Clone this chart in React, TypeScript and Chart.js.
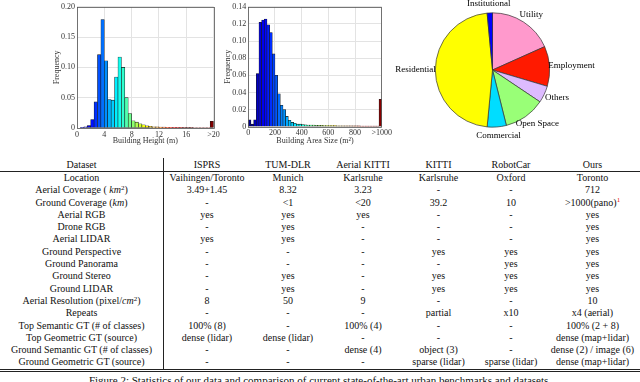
import React, { useEffect, useRef } from "react";
import { Chart, registerables } from "chart.js";
Chart.register(...registerables);

// ---------- DATA ----------
// Building height histogram (bin width 0.5 m, last bin = ">20")
const HEIGHT_BIN_WIDTH = 0.5;
const heightFreq = [
  0, 0.001, 0.002, 0.004, 0.014, 0.043, 0.121, 0.179, 0.111, 0.047,
  0.046, 0.084, 0.117, 0.1, 0.05, 0.024, 0.012, 0.0096, 0.007, 0.0053,
  0.0037, 0.0027, 0.002, 0.0018, 0.0015, 0.0014, 0.0012, 0.0011, 0.001, 0.001,
  0.001, 0.0009, 0.0009, 0.0009, 0.0008, 0.0008, 0.0008, 0.0008, 0.0008, 0.011,
];
const heightTicks = [0, 4, 8, 12, 16, 20];
const heightLastLabel = ">20";

// Building area histogram (bin width 20 m^2, last bin = ">1000")
const AREA_BIN_WIDTH = 20;
const areaFreq = [
  0.008, 0.003, 0.008, 0.062, 0.122, 0.1245, 0.1257, 0.119, 0.11, 0.085,
  0.06, 0.0385, 0.025, 0.02, 0.012, 0.0075, 0.005, 0.004, 0.003, 0.003,
  0.0025, 0.0022, 0.002, 0.002, 0.0018, 0.0017, 0.0016, 0.0015, 0.0014, 0.0013,
  0.0013, 0.0012, 0.0012, 0.0011, 0.0011, 0.001, 0.001, 0.001, 0.001, 0.0009,
  0.0009, 0.0009, 0.0008, 0.0008, 0.0008, 0.0008, 0.0007, 0.0007, 0.0007, 0.032,
];
const areaLastLabel = ">1000";

// Land use pie
const landUseLabels = ["Utility", "Employment", "Others", "Open Space", "Commercial", "Residential", "Institutional"];
const landUseShare = [18.3, 11.3, 4.8, 11.7, 5.4, 47.0, 1.5];
const landUseColors = ["#ff99cc", "#ff1a00", "#ddbbff", "#99ff77", "#00ddff", "#ffff00", "#0000ff"];

// Table
const datasetNames = ["ISPRS", "TUM-DLR", "Aerial KITTI", "KITTI", "RobotCar", "Ours"];
const rowLocation = ["Vaihingen/Toronto", "Munich", "Karlsruhe", "Karlsruhe", "Oxford", "Toronto"];
const rowAerialCoverage = ["3.49+1.45", "8.32", "3.23", "-", "-", "712"];
const rowGroundCoverage = ["-", "<1", "<20", "39.2", "10", ">1000(pano)"];
const rowAerialRGB = ["yes", "yes", "yes", "-", "-", "yes"];
const rowDroneRGB = ["-", "yes", "-", "-", "-", "yes"];
const rowAerialLidar = ["yes", "yes", "-", "-", "-", "yes"];
const rowGroundPerspective = ["-", "-", "-", "yes", "yes", "yes"];
const rowGroundPanorama = ["-", "-", "-", "-", "yes", "yes"];
const rowGroundStereo = ["-", "yes", "-", "yes", "yes", "yes"];
const rowGroundLidar = ["-", "yes", "-", "yes", "yes", "yes"];
const rowAerialRes = ["8", "50", "9", "-", "-", "10"];
const rowRepeats = ["-", "-", "-", "partial", "x10", "x4 (aerial)"];
const rowTopSem = ["100% (8)", "-", "100% (4)", "-", "-", "100% (2 + 8)"];
const rowTopGeo = ["dense (lidar)", "dense (lidar)", "-", "-", "-", "dense (map+lidar)"];
const rowGroundSem = ["-", "-", "dense (4)", "object (3)", "-", "dense (2) / image (6)"];
const rowGroundGeo = ["-", "-", "-", "sparse (lidar)", "sparse (lidar)", "dense (map+lidar)"];

const caption =
  "Figure 2: Statistics of our data and comparison of current state-of-the-art urban benchmarks and datasets.";

// ---------- STYLE HELPERS ----------
const SERIF = "'Liberation Serif', 'Times New Roman', serif";

function clamp(v: number, a: number, b: number) {
  return Math.max(a, Math.min(b, v));
}
function jet(t: number) {
  t = clamp(t, 0, 1);
  const r = clamp(1.5 - Math.abs(4 * t - 3), 0, 1);
  const g = clamp(1.5 - Math.abs(4 * t - 2), 0, 1);
  const b = clamp(1.5 - Math.abs(4 * t - 1), 0, 1);
  return `rgb(${Math.round(r * 255)},${Math.round(g * 255)},${Math.round(b * 255)})`;
}

const boxPlugin = {
  id: "box",
  afterDatasetsDraw(chart: any) {
    const { ctx, chartArea } = chart;
    ctx.save();
    ctx.strokeStyle = "#555";
    ctx.lineWidth = 0.8;
    ctx.strokeRect(
      Math.round(chartArea.left) + 0.5,
      Math.round(chartArea.top) + 0.5,
      Math.round(chartArea.right - chartArea.left),
      Math.round(chartArea.bottom - chartArea.top)
    );
    ctx.restore();
  },
};

const pieLabelPlugin = {
  id: "pieLabels",
  afterDraw(chart: any) {
    const meta = chart.getDatasetMeta(0);
    const ctx = chart.ctx;
    ctx.save();
    ctx.font = `9px ${SERIF}`;
    ctx.fillStyle = "#000";
    ctx.textAlign = "center";
    ctx.textBaseline = "middle";
    meta.data.forEach((arc: any, i: number) => {
      const p = arc.getProps(["x", "y", "startAngle", "endAngle", "outerRadius"], true);
      const mid = (p.startAngle + p.endAngle) / 2;
      const dx = Math.cos(mid);
      const dy = Math.sin(mid);
      const label = chart.data.labels[i];
      const w = ctx.measureText(label).width;
      const ax = p.x + dx * p.outerRadius * 1.1;
      const ay = p.y + dy * p.outerRadius * 1.1;
      ctx.fillText(label, ax + dx * w * 0.35, ay + dy * 9 * 0.35);
    });
    ctx.restore();
  },
};

function histOptions(cfg: {
  xMax: number;
  xStep: number;
  lastLabel: string;
  yMax: number;
  yStep: number;
  yAxisWidth: number;
  xAxisHeight: number;
  padTop: number;
  padRight: number;
  yTitlePad: number;
  xTitlePad: number;
  xTickPad: number;
  xTitle: string;
}) {
  const tickFont = { family: SERIF, size: 8 };
  return {
    animation: false,
    responsive: false,
    events: [],
    layout: { padding: { left: 0, top: cfg.padTop, right: cfg.padRight, bottom: 0 } },
    plugins: { legend: { display: false }, tooltip: { enabled: false } },
    scales: {
      x: {
        type: "linear",
        min: 0,
        max: cfg.xMax,
        offset: false,
        grid: { color: "#e3e3e3", drawTicks: false, offset: false },
        border: { display: false },
        ticks: {
          stepSize: cfg.xStep,
          font: tickFont,
          color: "#333",
          padding: cfg.xTickPad,
          maxRotation: 0,
          callback: (v: number) => (v === cfg.xMax ? cfg.lastLabel : String(v)),
        },
        title: {
          display: true,
          text: cfg.xTitle,
          font: tickFont,
          color: "#333",
          padding: { top: 0, bottom: cfg.xTitlePad },
        },
        afterFit: (s: any) => {
          s.height = cfg.xAxisHeight;
        },
      },
      y: {
        min: 0,
        max: cfg.yMax,
        grid: { color: "#e3e3e3", drawTicks: false },
        border: { display: false },
        ticks: { stepSize: cfg.yStep, font: tickFont, color: "#333", padding: 2 },
        title: {
          display: true,
          text: "Frequency",
          font: tickFont,
          color: "#333",
          padding: { top: cfg.yTitlePad, bottom: 0 },
        },
        afterFit: (s: any) => {
          s.width = cfg.yAxisWidth;
        },
      },
    },
  };
}

function rowCells(vals: string[]) {
  return vals;
}

export default function App() {
  const h1 = useRef<HTMLCanvasElement>(null);
  const h2 = useRef<HTMLCanvasElement>(null);
  const pie = useRef<HTMLCanvasElement>(null);

  useEffect(() => {
    document.body.style.margin = "0";
    const charts: Chart[] = [];

    const hData = heightFreq.map((y, i) => ({ x: (i + 0.5) * HEIGHT_BIN_WIDTH, y }));
    charts.push(
      new Chart(h1.current!, {
        type: "bar",
        data: {
          datasets: [
            {
              data: hData as any,
              backgroundColor: hData.map((d) => jet(d.x / 16)),
              borderColor: "#1a1a1a",
              borderWidth: 0.6,
              borderSkipped: false,
              barPercentage: 1,
              categoryPercentage: 1,
            },
          ],
        },
        options: histOptions({
          xMax: heightTicks[heightTicks.length - 1],
          xStep: heightTicks[1] - heightTicks[0],
          lastLabel: heightLastLabel,
          yMax: 0.2,
          yStep: 0.05,
          yAxisWidth: 37,
          xAxisHeight: 22,
          padTop: 3,
          padRight: 11.4,
          yTitlePad: 11.7,
          xTitlePad: 4.2,
          xTickPad: 2,
          xTitle: "Building Height (m)",
        }) as any,
        plugins: [boxPlugin],
      })
    );

    const aData = areaFreq.map((y, i) => ({ x: (i + 0.5) * AREA_BIN_WIDTH, y }));
    charts.push(
      new Chart(h2.current!, {
        type: "bar",
        data: {
          datasets: [
            {
              data: aData as any,
              backgroundColor: aData.map((d) => jet(d.x / 1000)),
              borderColor: "#1a1a1a",
              borderWidth: 0.6,
              borderSkipped: false,
              barPercentage: 1,
              categoryPercentage: 1,
            },
          ],
        },
        options: histOptions({
          xMax: areaFreq.length * AREA_BIN_WIDTH,
          xStep: 200,
          lastLabel: areaLastLabel,
          yMax: 0.14,
          yStep: 0.02,
          yAxisWidth: 33.3,
          xAxisHeight: 23.3,
          padTop: 1.7,
          padRight: 13.3,
          yTitlePad: 8.5,
          xTitlePad: 4.2,
          xTickPad: 1,
          xTitle: "Building Area Size (m²)",
        }) as any,
        plugins: [boxPlugin],
      })
    );

    charts.push(
      new Chart(pie.current!, {
        type: "pie",
        data: {
          labels: landUseLabels,
          datasets: [
            {
              data: landUseShare,
              backgroundColor: landUseColors,
              borderColor: "#333",
              borderWidth: 0.7,
            },
          ],
        },
        options: {
          animation: false,
          responsive: false,
          events: [],
          layout: { padding: { left: 55, right: 90, top: 12.5, bottom: 17.5 } },
          plugins: { legend: { display: false }, tooltip: { enabled: false } },
        } as any,
        plugins: [pieLabelPlugin],
      })
    );

    return () => charts.forEach((c) => c.destroy());
  }, []);

  const colWidths = [164, 86, 76, 74, 77, 68, 95];
  const rowH = 12.3;

  const sup2 = <sup style={{ fontSize: 7, lineHeight: 0, verticalAlign: "3px" }}>2</sup>;
  const rows: { label: React.ReactNode; vals: string[] }[] = [
    { label: "Location", vals: rowLocation },
    { label: <>Aerial Coverage ( <i>km</i>{sup2})</>, vals: rowAerialCoverage },
    { label: <>Ground Coverage (<i>km</i>)</>, vals: rowGroundCoverage },
    { label: "Aerial RGB", vals: rowAerialRGB },
    { label: "Drone RGB", vals: rowDroneRGB },
    { label: "Aerial LIDAR", vals: rowAerialLidar },
    { label: "Ground Perspective", vals: rowGroundPerspective },
    { label: "Ground Panorama", vals: rowGroundPanorama },
    { label: "Ground Stereo", vals: rowGroundStereo },
    { label: "Ground LIDAR", vals: rowGroundLidar },
    { label: <>Aerial Resolution (pixel/<i>cm</i>{sup2})</>, vals: rowAerialRes },
    { label: "Repeats", vals: rowRepeats },
    { label: "Top Semantic GT (# of classes)", vals: rowTopSem },
    { label: "Top Geometric GT (source)", vals: rowTopGeo },
    { label: "Ground Semantic GT (# of classes)", vals: rowGroundSem },
    { label: "Ground Geometric GT (source)", vals: rowGroundGeo },
  ];

  const cellStyle = (ci: number, h: number): React.CSSProperties => ({
    width: colWidths[ci],
    height: h,
    lineHeight: `${h}px`,
    textAlign: "center",
    whiteSpace: "nowrap",
    boxSizing: "border-box",
    borderRight: ci === 0 ? "1px solid #222" : undefined,
    flex: "none",
  });

  const renderVal = (v: string) =>
    v === ">1000(pano)" ? (
      <>
        {v}
        <sup style={{ color: "#e00", fontSize: 7, lineHeight: 0, verticalAlign: "4px" }}>1</sup>
      </>
    ) : (
      v
    );

  return (
    <div
      style={{
        position: "fixed",
        left: 0,
        top: 0,
        width: 640,
        height: 382,
        overflow: "hidden",
        background: "#fff",
        fontFamily: SERIF,
      }}
    >
      <canvas ref={h1} width={185} height={150} style={{ position: "absolute", left: 40, top: 0, width: 185, height: 150 }} />
      <canvas ref={h2} width={180} height={150} style={{ position: "absolute", left: 215, top: 0, width: 180, height: 150 }} />
      <canvas ref={pie} width={260} height={145} style={{ position: "absolute", left: 380, top: 0, width: 260, height: 145 }} />

      <div style={{ position: "absolute", left: 0, top: 158, width: 640, fontSize: 10, color: "#111" }}>
        <div style={{ display: "flex", height: 13, borderBottom: "1px solid #222" }}>
          <div style={cellStyle(0, 13)}>Dataset</div>
          {datasetNames.map((n, i) => (
            <div key={n} style={cellStyle(i + 1, 13)}>
              {n}
            </div>
          ))}
        </div>
        {rows.map((r, ri) => (
          <div key={ri} style={{ display: "flex", height: rowH }}>
            <div style={cellStyle(0, rowH)}>{r.label}</div>
            {rowCells(r.vals).map((v, ci) => (
              <div key={ci} style={cellStyle(ci + 1, rowH)}>
                {renderVal(v)}
              </div>
            ))}
          </div>
        ))}
        <div style={{ borderTop: "3px double #222", width: 640 }} />
        <div style={{ textAlign: "center", fontSize: 11, marginTop: 2, whiteSpace: "nowrap", color: "#111" }}>{caption}</div>
      </div>
    </div>
  );
}
